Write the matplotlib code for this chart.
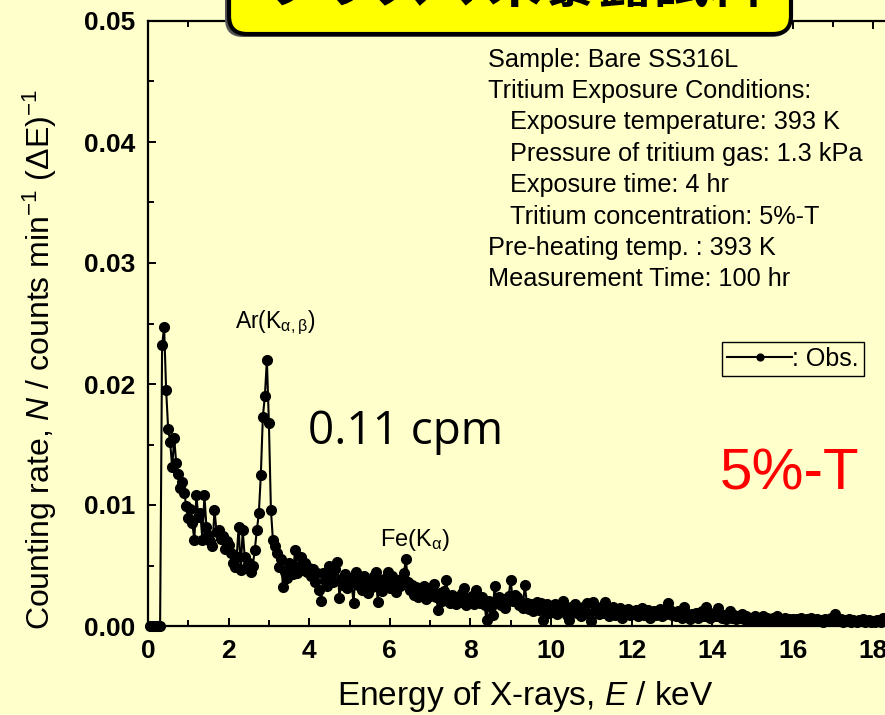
import numpy as np
import matplotlib
matplotlib.use('Agg')
import matplotlib.pyplot as plt
from matplotlib.patches import FancyBboxPatch
from matplotlib.transforms import IdentityTransform
from matplotlib.ticker import MultipleLocator, FormatStrFormatter

plt.rcParams['font.family'] = ['Liberation Sans', 'DejaVu Sans']
plt.rcParams['mathtext.fontset'] = 'custom'
plt.rcParams['mathtext.rm'] = 'Liberation Sans'
plt.rcParams['mathtext.it'] = 'Liberation Sans:italic'
plt.rcParams['mathtext.bf'] = 'Liberation Sans:bold'

BG = '#FFFFCC'

# counting rate per 0.05 keV channel, one row per keV (E = k+0.05 ... k+1.00)
rate_rows = [
    [0, 0, 0, 0, 0, 0, 0.0232, 0.0247, 0.0195, 0.0163, 0.0152, 0.0131, 0.0155, 0.0135, 0.0126, 0.0114, 0.0119, 0.0110, 0.0099, 0.0089],
    [0.0097, 0.0085, 0.0071, 0.0108, 0.0090, 0.0093, 0.0071, 0.0108, 0.0082, 0.0075, 0.0070, 0.0066, 0.0096, 0.0078, 0.0079, 0.0072, 0.0074, 0.0064, 0.0070, 0.0067],
    [0.0060, 0.0052, 0.0049, 0.0057, 0.0082, 0.0046, 0.0079, 0.0057, 0.0050, 0.0052, 0.0045, 0.0050, 0.0063, 0.0079, 0.0093, 0.0125, 0.0173, 0.0190, 0.0220, 0.0168],
    [0.0096, 0.0071, 0.0066, 0.0060, 0.0049, 0.0055, 0.0032, 0.0045, 0.0040, 0.0052, 0.0047, 0.0043, 0.0063, 0.0044, 0.0050, 0.0057, 0.0046, 0.0052, 0.0045, 0.0048],
    [0.0041, 0.0047, 0.0036, 0.0044, 0.0030, 0.0021, 0.0044, 0.0038, 0.0033, 0.0050, 0.0042, 0.0036, 0.0047, 0.0053, 0.0023, 0.0039, 0.0034, 0.0043, 0.0031, 0.0040],
    [0.0036, 0.0019, 0.0045, 0.0034, 0.0039, 0.0030, 0.0041, 0.0036, 0.0027, 0.0038, 0.0032, 0.0041, 0.0045, 0.0020, 0.0036, 0.0029, 0.0039, 0.0033, 0.0045, 0.0031],
    [0.0041, 0.0035, 0.0028, 0.0038, 0.0033, 0.0037, 0.0044, 0.0055, 0.0036, 0.0030, 0.0034, 0.0026, 0.0032, 0.0024, 0.0031, 0.0028, 0.0033, 0.0022, 0.0029, 0.0025],
    [0.0030, 0.0035, 0.0024, 0.0013, 0.0027, 0.0021, 0.0029, 0.0038, 0.0023, 0.0019, 0.0026, 0.0021, 0.0018, 0.0024, 0.0020, 0.0027, 0.0031, 0.0017, 0.0023, 0.0020],
    [0.0025, 0.0018, 0.0030, 0.0022, 0.0019, 0.0024, 0.0017, 0.0005, 0.0021, 0.0016, 0.0009, 0.0033, 0.0020, 0.0024, 0.0017, 0.0022, 0.0015, 0.0020, 0.0025, 0.0038],
    [0.0021, 0.0026, 0.0024, 0.0017, 0.0020, 0.0015, 0.0034, 0.0019, 0.0014, 0.0018, 0.0012, 0.0016, 0.0020, 0.0013, 0.0019, 0.0005, 0.0015, 0.0018, 0.0011, 0.0016],
    [0.0013, 0.0018, 0.0010, 0.0015, 0.0012, 0.0021, 0.0014, 0.0009, 0.0005, 0.0016, 0.0012, 0.0018, 0.0011, 0.0014, 0.0008, 0.0016, 0.0012, 0.0019, 0.0010, 0.0004],
    [0.0020, 0.0013, 0.0016, 0.0010, 0.0015, 0.0011, 0.0020, 0.0014, 0.0008, 0.0013, 0.0016, 0.0009, 0.0012, 0.0015, 0.0007, 0.0012, 0.0010, 0.0014, 0.0009, 0.0012],
    [0.0010, 0.0013, 0.0008, 0.0012, 0.0015, 0.0009, 0.0011, 0.0013, 0.0007, 0.0010, 0.0012, 0.0009, 0.0011, 0.0014, 0.0008, 0.0012, 0.0010, 0.0019, 0.0013, 0.0009],
    [0.0011, 0.0008, 0.0012, 0.0010, 0.0007, 0.0016, 0.0011, 0.0009, 0.0006, 0.0010, 0.0008, 0.0011, 0.0007, 0.0009, 0.0012, 0.0008, 0.0016, 0.0010, 0.0007, 0.0009],
    [0.0011, 0.0008, 0.0015, 0.0010, 0.0007, 0.0009, 0.0006, 0.0008, 0.0012, 0.0007, 0.0009, 0.0006, 0.0008, 0.0007, 0.0010, 0.0006, 0.0008, 0.0005, 0.0007, 0.0006],
    [0.0008, 0.0005, 0.0007, 0.0006, 0.0008, 0.0005, 0.0007, 0.0006, 0.0004, 0.0007, 0.0006, 0.0008, 0.0005, 0.0006, 0.0004, 0.0007, 0.0005, 0.0006, 0.0004, 0.0006],
    [0.0005, 0.0006, 0.0004, 0.0007, 0.0005, 0.0004, 0.0006, 0.0005, 0.0007, 0.0004, 0.0005, 0.0006, 0.0004, 0.0005, 0.0003, 0.0006, 0.0005, 0.0004, 0.0007, 0.0005],
    [0.0010, 0.0005, 0.0004, 0.0006, 0.0003, 0.0005, 0.0004, 0.0006, 0.0003, 0.0005, 0.0004, 0.0003, 0.0005, 0.0004, 0.0006, 0.0003, 0.0004, 0.0005, 0.0003, 0.0004],
    [0.0003, 0.0005, 0.0004, 0.0003, 0.0007, 0.0004, 0.0003, 0.0005, 0.0004, 0.0002, 0.0004, 0.0003, 0.0005, 0.0003, 0.0004, 0.0002, 0.0003, 0.0004, 0.0002, 0.0003],
]
counting_rate = np.concatenate([np.array(r) for r in rate_rows])
energy = np.round(0.05 * np.arange(1, len(counting_rate) + 1), 2)

info_lines = [
    ("Sample: Bare SS316L", False),
    ("Tritium Exposure Conditions:", False),
    ("Exposure temperature: 393 K", True),
    ("Pressure of tritium gas: 1.3 kPa", True),
    ("Exposure time: 4 hr", True),
    ("Tritium concentration: 5%-T", True),
    ("Pre-heating temp. : 393 K", False),
    ("Measurement Time: 100 hr", False),
]
title_text = "プラズマ未暴露試料"

W, H = 885, 715
fig = plt.figure(figsize=(W / 100, H / 100), dpi=100, facecolor=BG)

def fx(px):
    return px / W

def fy(py):
    return (H - py) / H

x0, x_per_kev = 148, 40.3
ax = fig.add_axes([fx(x0), fy(626), 20 * x_per_kev / W, (626 - 21) / H])
ax.set_facecolor(BG)

ax.plot(energy, counting_rate, '-', color='black', lw=1.5, marker='o', ms=7,
        mec='black', mfc='black', clip_on=False, zorder=3, label=': Obs.')

ax.set_xlim(0, 20)
ax.set_ylim(0, 0.05)
ax.xaxis.set_major_locator(MultipleLocator(2))
ax.xaxis.set_minor_locator(MultipleLocator(1))
ax.yaxis.set_major_locator(MultipleLocator(0.01))
ax.yaxis.set_minor_locator(MultipleLocator(0.005))
ax.yaxis.set_major_formatter(FormatStrFormatter('%.2f'))
for s in ax.spines.values():
    s.set_linewidth(1.6)
ax.tick_params(which='both', direction='in', top=True, right=True, width=1.4)
ax.tick_params(which='major', length=6)
ax.tick_params(which='minor', length=4)
ax.tick_params(axis='x', pad=9)
ax.tick_params(axis='y', pad=9)
for lab in ax.get_xticklabels() + ax.get_yticklabels():
    lab.set_fontsize(19)
    lab.set_fontweight('bold')

fig.text(fx(525), fy(697), 'Energy of X-rays, $E$ / keV', fontsize=24,
         ha='center', va='center')
fig.text(fx(40), fy(360), 'Counting rate, $N$ / counts min$^{-1}$ ($\\Delta$E)$^{-1}$',
         fontsize=23, rotation=90, ha='center', va='center')

# condition block
for i, (line, indent) in enumerate(info_lines):
    fig.text(fx(510 if indent else 488), fy(66.7 + 31.4 * i), line,
             fontsize=18.2, va='baseline', ha='left')

ax.text(fx(235), fy(328), 'Ar(K$_{\\mathrm{\\alpha,\\beta}}$)', transform=fig.transFigure,
        fontsize=16.5, va='baseline', ha='left')
ax.text(fx(380), fy(546), 'Fe(K$_{\\mathrm{\\alpha}}$)', transform=fig.transFigure,
        fontsize=17, va='baseline', ha='left')
fig.text(fx(308), fy(444), '0.11 cpm', fontsize=33, family=['Open Sans'],
         va='baseline', ha='left')
fig.text(fx(720), fy(490), '5%-T', fontsize=42, color='red', va='baseline', ha='left')

leg = ax.legend(loc='upper right', bbox_to_anchor=(fx(864), fy(342)),
                bbox_transform=fig.transFigure, borderaxespad=0, fontsize=18,
                handlelength=2.6, handletextpad=0.0, borderpad=0.2,
                markerscale=0.7, fancybox=False, framealpha=1, facecolor=BG,
                edgecolor='black')
leg.get_frame().set_linewidth(1.0)

# title box at the top (clipped by the figure edge)
shadow = FancyBboxPatch((225, H - 37), 565, 120, boxstyle='round,pad=0,rounding_size=18',
                        transform=IdentityTransform(), facecolor='#555555',
                        edgecolor='none', zorder=5)
box = FancyBboxPatch((229, H - 34), 562, 120, boxstyle='round,pad=0,rounding_size=18',
                     transform=IdentityTransform(), facecolor='#FFFF00',
                     edgecolor='black', linewidth=3, zorder=6)
fig.patches.extend([shadow, box])
fig.text(fx(515), fy(2), title_text, fontsize=40, fontweight='bold',
         family=['Noto Sans CJK JP'], ha='center', va='baseline', zorder=7)

fig.savefig('out.png', dpi=100, facecolor=BG)
